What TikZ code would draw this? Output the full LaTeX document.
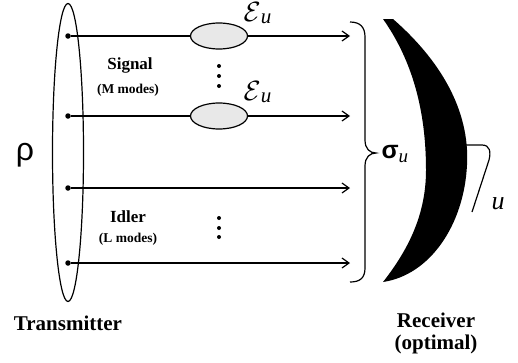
\documentclass[tikz,border=0pt]{standalone}
\usepackage{graphicx}
\usepackage{fontspec}
\setmainfont{Liberation Serif}
\newfontfamily\arialf{Liberation Sans}
\usetikzlibrary{shapes.geometric,arrows.meta}
\begin{document}
\begin{tikzpicture}[x=1pt,y=-1pt,line width=1.2pt,
  dotnode/.style={circle,fill,inner sep=0pt,minimum size=5.5pt},
  smalldot/.style={circle,fill,inner sep=0pt,minimum size=4pt},
  chan/.style={ellipse,draw,fill=gray!18,minimum width=57pt,minimum height=26pt,inner sep=0pt},
  arr/.style={-{Straight Barb[length=7pt,width=10pt]}},
  lbl/.style={font=\fontsize{17}{20}\selectfont\bfseries,inner sep=0pt},
  sublbl/.style={font=\fontsize{13.5}{16}\selectfont\bfseries,inner sep=0pt},
  biglbl/.style={font=\fontsize{21}{25}\selectfont\bfseries,inner sep=0pt,align=center},
  chanlbl/.style={inner sep=0pt,anchor=base west}]
\useasboundingbox (0,0) rectangle (518,362);
% transmitter ellipse
\node[ellipse,draw,minimum width=31pt,minimum height=298pt,inner sep=0pt] (tx) at (68,152.5) {};
% mode dots
\node[dotnode] (d1) at (68,36) {};
\node[dotnode] (d2) at (68,116) {};
\node[dotnode] (d3) at (68,188) {};
\node[dotnode] (d4) at (68,263) {};
% arrow ends
\coordinate (e1) at (350,36);
\coordinate (e2) at (350,116);
\coordinate (e3) at (350,188);
\coordinate (e4) at (350,263);
% channels
\node[chan] (c1) at (219,36) {};
\node[chan] (c2) at (219,116) {};
\draw (d1) -- (c1);
\draw[arr] (c1) -- (e1);
\draw (d2) -- (c2);
\draw[arr] (c2) -- (e2);
\draw[arr] (d3) -- (e3);
\draw[arr] (d4) -- (e4);
% channel labels
\newcommand{\chanE}{\scalebox{1.12}{\fontsize{24.88}{28}\selectfont$\mathcal{E}$}\raisebox{-2pt}{\fontsize{21}{24}\selectfont\itshape u}}
\node[chanlbl] (l1) at (243,21) {\chanE};
\node[chanlbl] (l2) at (243,100) {\chanE};
% vertical dots
\foreach \y in {66,76,86} \node[smalldot] at (219,\y) {};
\foreach \y in {218,228,237} \node[smalldot] at (219,\y) {};
% text labels
\node[lbl] (sig) at (130,65) {Signal};
\node[sublbl] (sigm) at (128,90) {(M modes)};
\node[lbl] (idl) at (128,217) {Idler};
\node[sublbl] (idlm) at (128,239) {(L modes)};
\node[biglbl] (txl) at (68,323) {Transmitter};
\node[inner sep=0pt,font=\fontsize{32}{36}\selectfont\arialf] (rho) at (25,155) {ρ};
% brace
\draw (350,22) .. controls (360,22) and (365,27) .. (365,37)
  -- (365,140) .. controls (365,149) and (370,153) .. (376,153)
  .. controls (370,153) and (365,157) .. (365,166)
  -- (365,268) .. controls (365,278) and (360,282) .. (350,282);
\node[inner sep=0pt,anchor=west] (sgm) at (381,154) {\fontsize{25}{28}\selectfont\arialf\bfseries σ\fontsize{19}{22}\selectfont\raisebox{-4pt}{\normalfont\itshape u}};
% receiver
\fill (383,19) -- (393,19) .. controls (440,60) and (470,110) .. (467,165)
  .. controls (464,225) and (430,275) .. (383,282)
  .. controls (408,250) and (426,215) .. (426,170)
  .. controls (426,110) and (412,60) .. (383,19) -- cycle;
% wire
\coordinate (w0) at (465,145);
\coordinate (w1) at (472,212);
\draw (w0) -- (482,145) .. controls (490,145) and (491,152) .. (489,160) -- (w1);
\node[inner sep=0pt,font=\fontsize{26}{30}\selectfont\itshape] (ul) at (498,204) {u};
\node[biglbl] (rxl) at (436,333) {Receiver\\[-3pt](optimal)};
\end{tikzpicture}
\end{document}
